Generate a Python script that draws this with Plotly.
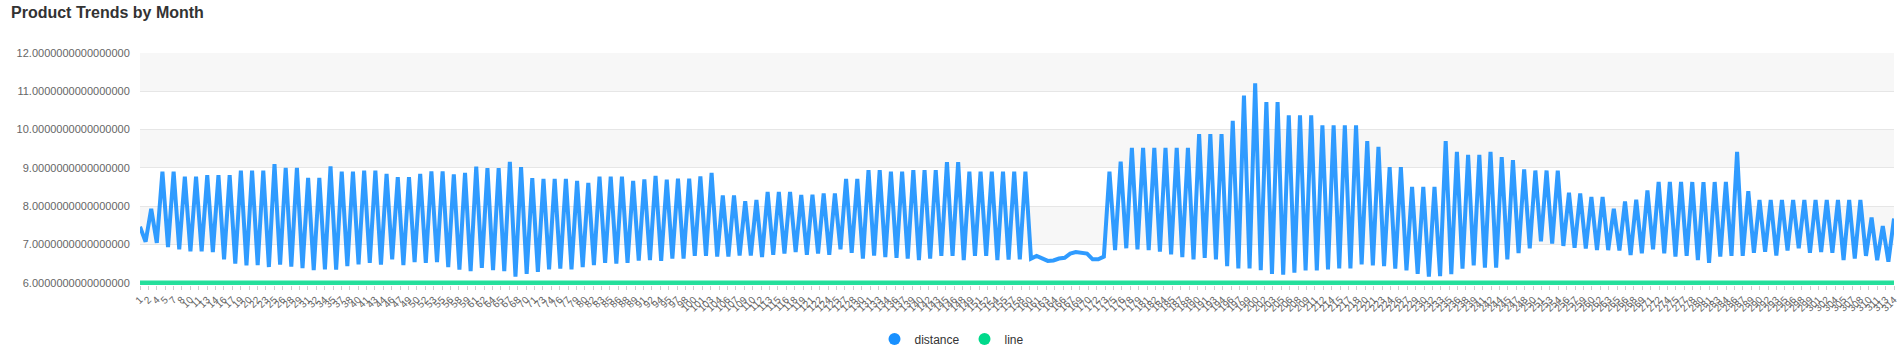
import plotly.graph_objects as go

# ---------------- data ----------------
months = list(range(1, 315))

distance = [
    7.46, 7.07, 7.93, 7.04, 8.90, 6.93, 8.90, 6.87, 8.77, 6.82,
    8.77, 6.82, 8.81, 6.80, 8.81, 6.61, 8.81, 6.50, 8.93, 6.45,
    8.93, 6.46, 8.93, 6.41, 9.10, 6.47, 9.00, 6.42, 9.00, 6.38,
    8.74, 6.33, 8.74, 6.35, 9.04, 6.34, 8.90, 6.43, 8.90, 6.48,
    8.93, 6.52, 8.93, 6.47, 8.84, 6.61, 8.76, 6.46, 8.76, 6.54,
    8.84, 6.52, 8.91, 6.54, 8.91, 6.41, 8.83, 6.34, 8.87, 6.30,
    9.03, 6.39, 8.99, 6.33, 8.99, 6.30, 9.16, 6.16, 9.02, 6.23,
    8.73, 6.28, 8.71, 6.35, 8.71, 6.37, 8.71, 6.35, 8.66, 6.41,
    8.61, 6.46, 8.77, 6.52, 8.77, 6.50, 8.77, 6.52, 8.66, 6.58,
    8.70, 6.59, 8.79, 6.57, 8.69, 6.63, 8.72, 6.63, 8.72, 6.70,
    8.78, 6.70, 8.87, 6.68, 8.28, 6.68, 8.28, 6.71, 8.13, 6.71,
    8.16, 6.67, 8.37, 6.73, 8.37, 6.76, 8.37, 6.80, 8.29, 6.73,
    8.30, 6.76, 8.33, 6.73, 8.33, 6.87, 8.71, 6.78, 8.71, 6.63,
    8.94, 6.71, 8.94, 6.67, 8.90, 6.65, 8.90, 6.63, 8.94, 6.59,
    8.94, 6.63, 8.94, 6.70, 9.15, 6.70, 9.15, 6.59, 8.90, 6.70,
    8.90, 6.70, 8.90, 6.59, 8.90, 6.60, 8.90, 6.61, 8.90, 6.63,
    6.70, 6.63, 6.57, 6.58, 6.63, 6.65, 6.76, 6.80, 6.77, 6.76,
    6.61, 6.61, 6.68, 8.90, 6.85, 9.16, 6.90, 9.52, 6.87, 9.52,
    6.85, 9.52, 6.81, 9.52, 6.74, 9.52, 6.67, 9.52, 6.61, 9.88,
    6.65, 9.88, 6.61, 9.88, 6.43, 10.23, 6.37, 10.89, 6.37, 11.21,
    6.33, 10.72, 6.23, 10.72, 6.21, 10.37, 6.26, 10.37, 6.32, 10.37,
    6.32, 10.11, 6.35, 10.11, 6.37, 10.11, 6.37, 10.11, 6.48, 9.70,
    6.45, 9.55, 6.43, 9.02, 6.37, 9.02, 6.32, 8.50, 6.23, 8.50,
    6.16, 8.50, 6.17, 9.70, 6.22, 9.42, 6.37, 9.34, 6.45, 9.34,
    6.39, 9.42, 6.39, 9.28, 6.61, 9.20, 6.77, 8.96, 6.90, 8.93,
    7.08, 8.93, 7.02, 8.93, 6.96, 8.35, 6.91, 8.33, 6.89, 8.24,
    6.85, 8.24, 6.85, 7.93, 6.84, 8.12, 6.72, 8.17, 6.77, 8.41,
    6.87, 8.63, 6.77, 8.63, 6.68, 8.63, 6.70, 8.63, 6.59, 8.63,
    6.52, 8.63, 6.68, 8.63, 6.70, 9.42, 6.70, 8.39, 6.78, 8.16,
    6.81, 8.16, 6.71, 8.16, 6.84, 8.16, 6.90, 8.16, 6.78, 8.16,
    6.80, 8.16, 6.78, 8.16, 6.59, 8.16, 6.63, 8.16, 6.70, 7.70,
    6.59, 7.48, 6.55, 7.68,
]

line = [6.0] * len(months)

y_ticks = [6, 7, 8, 9, 10, 11, 12]
shaded_bands = [(7, 8), (9, 10), (11, 12)]

# x tick labels: every third slot of a doubled category axis
n_slots = 2 * len(months)
tick_labels = [str(3 * k // 2 + 1) for k in range((n_slots - 1) // 3 + 1)]
tick_pos = [1 + 3 * k * (months[-1] - 1) / (n_slots - 1) for k in range(len(tick_labels))]

BLUE = "rgba(24,144,255,0.9)"
BLUE_LEG = "#1890ff"
GREEN = "rgba(0,219,139,0.85)"
GREEN_LEG = "#00d98b"
FONT = "Liberation Sans, Arial, sans-serif"

fig = go.Figure()

fig.add_trace(go.Scatter(x=months, y=line, mode="lines", name="line",
                         line=dict(color=GREEN, width=4.5), showlegend=False,
                         hoverinfo="skip"))
fig.add_trace(go.Scatter(x=months, y=distance, mode="lines", name="distance",
                         line=dict(color=BLUE, width=4), showlegend=False))

# legend-only entries with circle icons
fig.add_trace(go.Scatter(x=[None], y=[None], mode="markers", name="distance",
                         marker=dict(color=BLUE_LEG, size=12, symbol="circle")))
fig.add_trace(go.Scatter(x=[None], y=[None], mode="markers", name="line",
                         marker=dict(color=GREEN_LEG, size=12, symbol="circle")))

for lo, hi in shaded_bands:
    fig.add_shape(type="rect", xref="paper", yref="y", x0=0, x1=1, y0=lo, y1=hi,
                  fillcolor="#f7f7f7", line_width=0, layer="below")

fig.update_layout(
    width=1904, height=350,
    margin=dict(l=140, r=10, t=53, b=65, autoexpand=False),
    paper_bgcolor="white", plot_bgcolor="white",
    font=dict(family=FONT, color="#666"),
    title=dict(text="<b>Product Trends by Month</b>", x=11 / 1904, xanchor="left",
               xref="container", yref="container", y=1 - 12.5 / 350, yanchor="middle",
               font=dict(size=16, color="#333", family=FONT)),
    showlegend=True,
    legend=dict(orientation="h", x=0.5, xanchor="center", xref="container",
                y=1 - 339 / 350, yanchor="middle", yref="container",
                font=dict(size=12, color="#333"), itemwidth=30,
                bgcolor="rgba(0,0,0,0)"),
)

fig.update_xaxes(type="linear", range=[months[0], months[-1]],
                 tickvals=tick_pos, ticktext=tick_labels, tickangle=-45,
                 tickfont=dict(size=10, color="#666"),
                 ticks="outside", ticklen=4, tickcolor="#ccc",
                 showgrid=False, zeroline=False, showline=False)

fig.update_yaxes(range=[5.94, 12], tickvals=y_ticks, tickformat=".16f",
                 tickfont=dict(size=11, color="#666"),
                 ticks="outside", ticklen=7, tickcolor="rgba(0,0,0,0)",
                 showgrid=True, gridcolor="#e6e6e6", gridwidth=1,
                 zeroline=False, showline=False)

fig.write_html("out.html")
